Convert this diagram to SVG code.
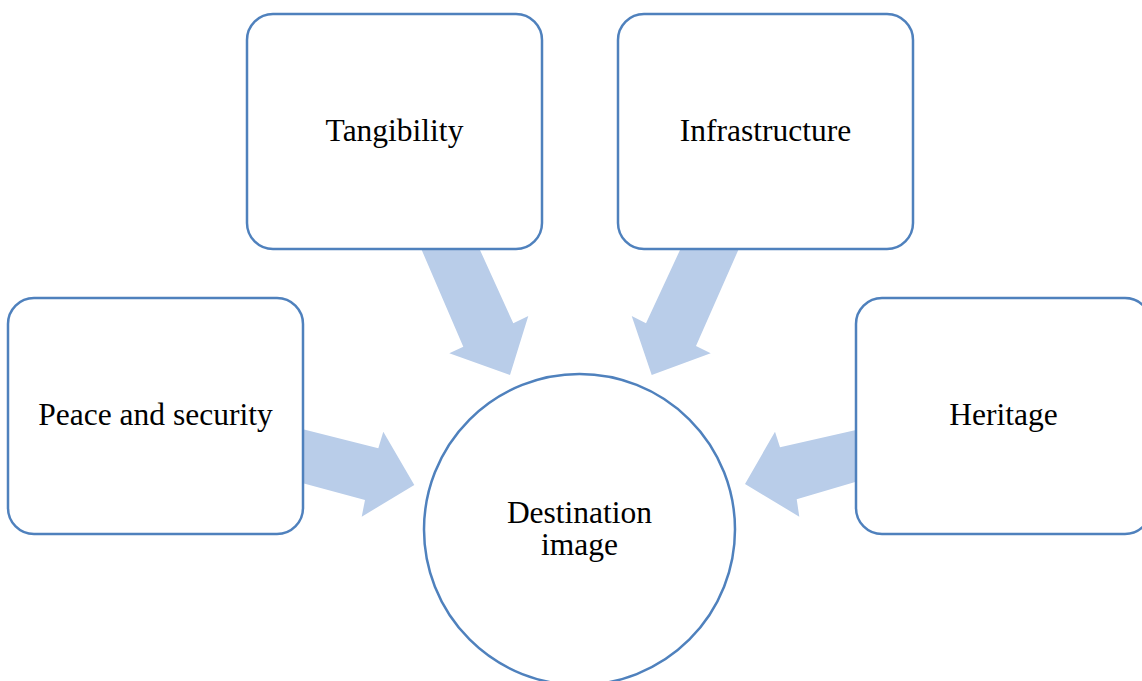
<svg xmlns="http://www.w3.org/2000/svg" width="1142" height="681" viewBox="0 0 1142 681">
  <style>
    .box { fill: #ffffff; stroke: #4F81BD; stroke-width: 2.5; }
    .arrow { fill: #B9CDE9; stroke: none; }
    .label { font-family: "Liberation Serif", "Times New Roman", serif; font-size: 31.5px; fill: #000000; text-anchor: middle; }
  </style>
  <rect width="1142" height="681" fill="#ffffff"/>

  <!-- block arrows pointing at the central circle -->
  <g id="connectors">
    <polygon class="arrow" points="421.7,250 480,250 513.3,323.3 528.3,316 510,375 449.3,353.3 463.3,346.7"/>
    <polygon class="arrow" points="680,250 738.3,250 696,346 710.7,353.3 651.7,375 631.7,316 646,323.3"/>
    <polygon class="arrow" points="303,429.3 378.3,448.3 383.3,431.7 414.3,485 361.7,516.7 365,500 303,483.3"/>
    <polygon class="arrow" points="856,430 780,447.3 775,431.7 745,484 799.3,516.7 796.7,499.3 856,481.7"/>
  </g>

  <g id="tangibility">
    <rect class="box" x="247" y="14" width="295" height="235" rx="26" ry="26"/>
    <text class="label" x="394.5" y="141">Tangibility</text>
  </g>

  <g id="infrastructure">
    <rect class="box" x="618" y="14" width="295" height="235" rx="26" ry="26"/>
    <text class="label" x="765.5" y="141">Infrastructure</text>
  </g>

  <g id="peace-security">
    <rect class="box" x="8" y="298" width="295" height="236" rx="26" ry="26"/>
    <text class="label" x="155.5" y="425">Peace and security</text>
  </g>

  <g id="heritage">
    <rect class="box" x="856" y="298" width="295" height="236" rx="26" ry="26"/>
    <text class="label" x="1003.5" y="425">Heritage</text>
  </g>

  <g id="destination-image">
    <circle class="box" cx="579.5" cy="529.5" r="155.5"/>
    <text class="label" x="579.5" y="523">Destination</text>
    <text class="label" x="579.5" y="555">image</text>
  </g>
</svg>
